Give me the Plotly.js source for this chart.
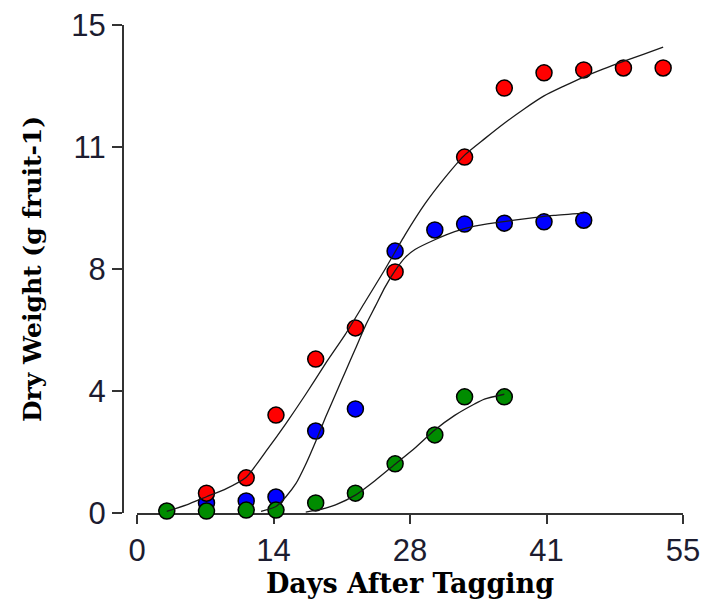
<!DOCTYPE html>
<html>
<head>
<meta charset="utf-8">
<script src="https://cdn.plot.ly/plotly-3.0.1.min.js"></script>
<style>
  html, body { margin: 0; padding: 0; background: #ffffff; }
  #chart { width: 707px; height: 606px; }
</style>
</head>
<body>
<div id="chart"></div>
<script>
const redDays     = [7, 11, 14, 18, 22, 26, 33, 37, 41, 45, 49, 53];
const redWeight   = [0.61, 1.08, 3.01, 4.73, 5.69, 7.41, 10.94, 13.06, 13.53, 13.62, 13.68, 13.68];

const blueDays    = [7, 11, 14, 18, 22, 26, 30, 33, 37, 41, 45];
const blueWeight  = [0.31, 0.37, 0.49, 2.52, 3.20, 8.05, 8.70, 8.88, 8.91, 8.95, 9.00];

const greenDays   = [3, 7, 11, 14, 18, 22, 26, 30, 33, 37];
const greenWeight = [0.06, 0.06, 0.09, 0.09, 0.31, 0.61, 1.51, 2.40, 3.57, 3.57];

// ---- Fitted curves ----
const redFitDays   = [3, 5, 7, 9, 11, 13, 15, 17, 19, 21, 23, 25, 27, 29, 31, 33, 35, 37, 39, 41, 43, 45, 47, 49, 51, 53];
const redFitWeight = [0.05, 0.25, 0.5, 0.75, 1.1, 1.9, 2.75, 3.65, 4.6, 5.5, 6.5, 7.5, 8.55, 9.5, 10.3, 11.0, 11.5, 11.98, 12.42, 12.82, 13.12, 13.4, 13.65, 13.88, 14.1, 14.32];

const blueFitDays   = [12.5, 14, 15, 16, 17, 18, 19, 20, 21, 22, 23, 24, 25, 26, 27, 28, 30, 32, 34, 36, 38, 40, 42, 45];
const blueFitWeight = [0.05, 0.2, 0.5, 0.9, 1.5, 2.2, 2.95, 3.65, 4.35, 5.05, 5.75, 6.35, 6.95, 7.45, 7.85, 8.1, 8.4, 8.65, 8.82, 8.92, 9.0, 9.08, 9.15, 9.22];

const greenFitDays   = [17, 18, 19, 20, 22, 24, 26, 28, 30, 32, 34, 35, 37];
const greenFitWeight = [0.03, 0.08, 0.15, 0.25, 0.55, 1.0, 1.5, 2.0, 2.55, 3.0, 3.35, 3.5, 3.65];

// ---- Axis ticks ----
const xTickVals = [0, 13.75, 27.5, 41.25, 55];
const xTickText = ['0', '14', '28', '41', '55'];
const yTickVals = [0, 3.75, 7.5, 11.25, 15];
const yTickText = ['0', '4', '8', '11', '15'];

function pts(x, y, color) {
  return {
    x: x, y: y, type: 'scatter', mode: 'markers', cliponaxis: false,
    hoverinfo: 'skip', showlegend: false,
    marker: { symbol: 'circle', size: 16, color: color, line: { color: '#000', width: 1.5 } }
  };
}
function fit(x, y) {
  return {
    x: x, y: y, type: 'scatter', mode: 'lines', cliponaxis: false,
    hoverinfo: 'skip', showlegend: false,
    line: { color: '#1a1a1a', width: 1.3, shape: 'spline', smoothing: 0.6 }
  };
}

const data = [
  pts(blueDays, blueWeight, '#0000ff'),
  pts(redDays, redWeight, '#ff0000'),
  pts(greenDays, greenWeight, '#008c00'),
  fit(redFitDays, redFitWeight),
  fit(blueFitDays, blueFitWeight),
  fit(greenFitDays, greenFitWeight)
];

const tickFont = { family: 'Liberation Sans, Arial, sans-serif', size: 31, color: '#1c1c30' };
const xTitleFont = { family: 'DejaVu Serif, serif', size: 27, color: '#000', weight: 'bold' };
const yTitleFont = { family: 'DejaVu Serif, serif', size: 25, color: '#000', weight: 'bold' };

const layout = {
  width: 707, height: 606,
  margin: { l: 123, r: 24, t: 25, b: 93 },
  paper_bgcolor: '#ffffff', plot_bgcolor: '#ffffff',
  showlegend: false,
  xaxis: {
    range: [0, 55], domain: [0.025, 1], autorange: false,
    tickmode: 'array', tickvals: xTickVals, ticktext: xTickText,
    ticks: 'outside', ticklen: 9, tickwidth: 2, tickcolor: '#333',
    showline: true, linecolor: '#333', linewidth: 2, layer: 'below traces',
    showgrid: false, zeroline: false,
    tickfont: tickFont,
    title: { text: '<b>Days After Tagging</b>', font: xTitleFont, standoff: 5 }
  },
  yaxis: {
    range: [0, 15], autorange: false, anchor: 'free', position: 0,
    tickmode: 'array', tickvals: yTickVals, ticktext: yTickText,
    ticks: 'outside', ticklen: 10, tickwidth: 2, tickcolor: '#333',
    showline: true, linecolor: '#333', linewidth: 2, layer: 'below traces',
    showgrid: false, zeroline: false,
    tickfont: tickFont,
    title: { text: '<b>Dry Weight (g fruit-1)</b>', font: yTitleFont, standoff: 22 }
  }
};

Plotly.newPlot('chart', data, layout, { displayModeBar: false, staticPlot: true });
</script>
</body>
</html>
